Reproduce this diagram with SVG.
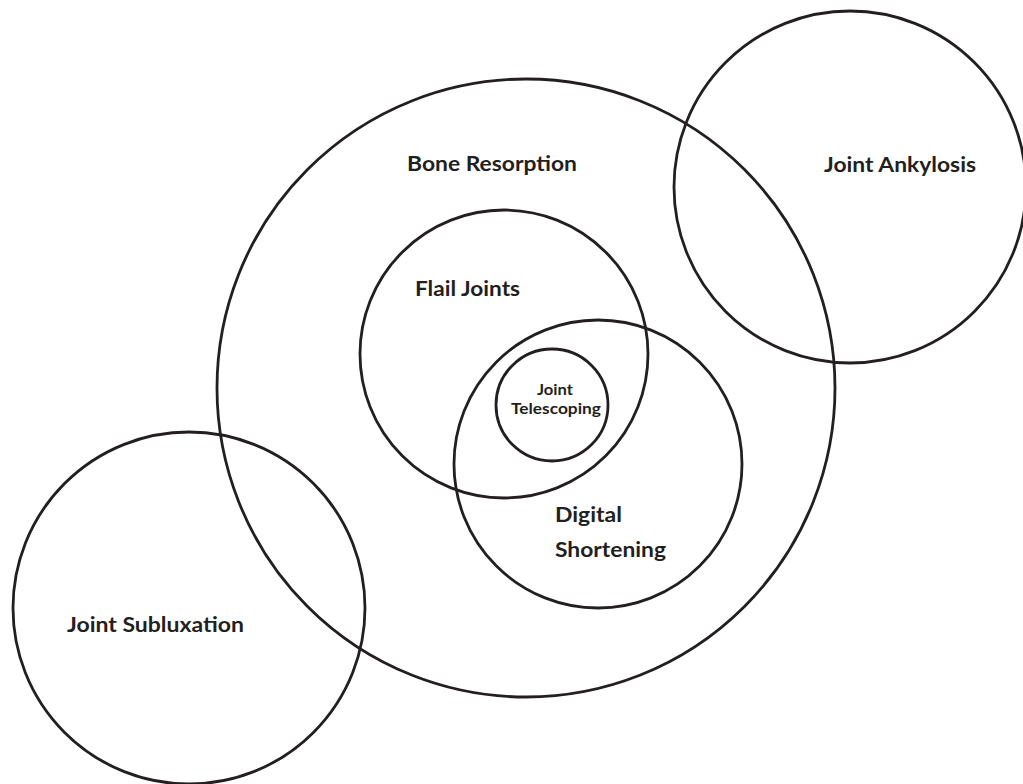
<svg xmlns="http://www.w3.org/2000/svg" width="1023" height="784" viewBox="0 0 1023 784">
<style>
.c{fill:none;stroke:#231f20;stroke-width:2.8}
.t{font-family:Lato,"Open Sans","Liberation Sans",sans-serif;font-weight:700;fill:#231f20;font-size:21px}
.s{font-size:15.5px}
</style>
<rect width="1023" height="784" fill="#fff"/>
<g id="bone-resorption"><circle class="c" cx="526" cy="388" r="309"/><text class="t" x="407" y="171" textLength="170" lengthAdjust="spacingAndGlyphs">Bone Resorption</text></g>
<g id="joint-ankylosis"><circle class="c" cx="850" cy="187" r="176"/><text class="t" x="824" y="172" textLength="152" lengthAdjust="spacingAndGlyphs">Joint Ankylosis</text></g>
<g id="joint-subluxation"><circle class="c" cx="189" cy="608" r="176"/><text class="t" x="67" y="632" textLength="177" lengthAdjust="spacingAndGlyphs">Joint Subluxation</text></g>
<g id="flail-joints"><circle class="c" cx="504" cy="354" r="144"/><text class="t" x="415" y="296" textLength="105" lengthAdjust="spacingAndGlyphs">Flail Joints</text></g>
<g id="digital-shortening"><circle class="c" cx="598" cy="464" r="144"/><text class="t" x="555" y="522" textLength="67" lengthAdjust="spacingAndGlyphs">Digital</text><text class="t" x="555" y="557" textLength="111" lengthAdjust="spacingAndGlyphs">Shortening</text></g>
<g id="joint-telescoping"><circle class="c" cx="552" cy="405" r="56"/><text class="t s" x="555" y="395" text-anchor="middle" textLength="36" lengthAdjust="spacingAndGlyphs">Joint</text><text class="t s" x="556" y="414" text-anchor="middle" textLength="90" lengthAdjust="spacingAndGlyphs">Telescoping</text></g>
<g id="connectors"/>
</svg>
